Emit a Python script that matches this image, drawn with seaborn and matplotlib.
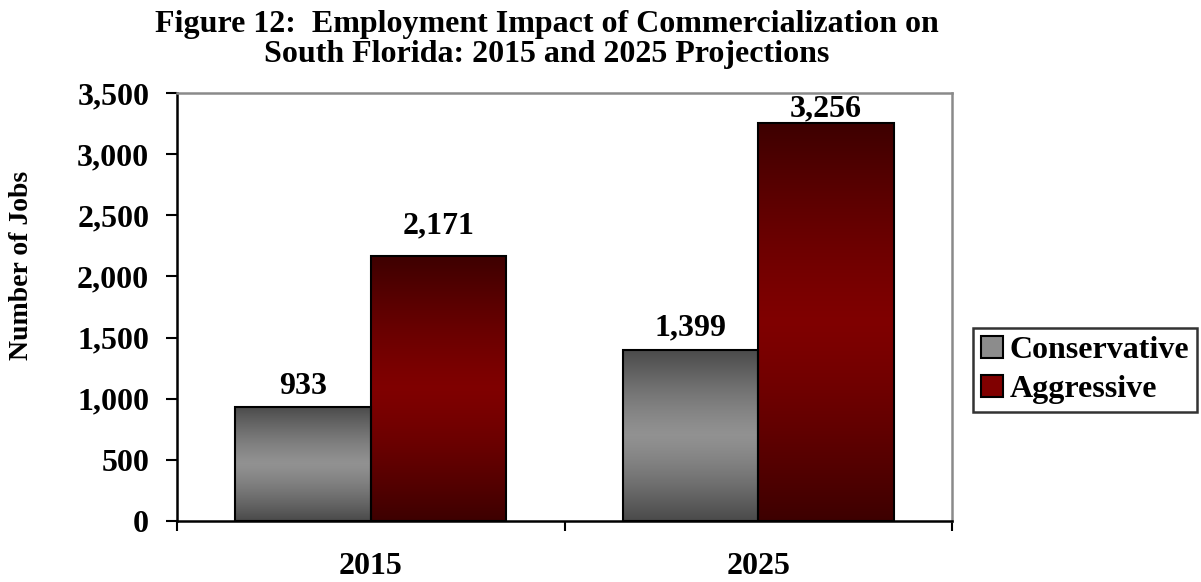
import numpy as np
import pandas as pd
import seaborn as sns
import matplotlib
matplotlib.use("Agg")
import matplotlib.pyplot as plt
from matplotlib.patches import Patch
from matplotlib.ticker import FuncFormatter, FixedLocator

# Data
years = ["2015", "2025"]
scenarios = ["Conservative", "Aggressive"]
conservative_jobs = [933, 1399]
aggressive_jobs = [2171, 3256]

df = pd.DataFrame({
    "Year": years * 2,
    "Scenario": [scenarios[0]] * 2 + [scenarios[1]] * 2,
    "Jobs": conservative_jobs + aggressive_jobs,
})

sns.set_theme(style="white")
plt.rcParams["font.family"] = ["Liberation Serif", "DejaVu Serif"]
plt.rcParams["font.weight"] = "bold"
plt.rcParams["text.color"] = "black"
plt.rcParams["axes.labelcolor"] = "black"
plt.rcParams["xtick.color"] = "black"
plt.rcParams["ytick.color"] = "black"

FS = 23
DPI = 100
fig = plt.figure(figsize=(12.01, 5.82), dpi=DPI)
ax = fig.add_axes([177 / 1201, 1 - 521 / 582, 775 / 1201, 428 / 582])

palette = {"Conservative": "#8c8c8c", "Aggressive": "#800000"}
sns.barplot(data=df, x="Year", y="Jobs", hue="Scenario", order=years,
            hue_order=scenarios, palette=palette, width=0.7, gap=0,
            edgecolor="black", linewidth=1.5, legend=False, ax=ax)

# Vertical "dark edges / bright centre" gradient for each bar
grad_ends = {"Conservative": ((0.29, 0.29, 0.29), (0.57, 0.57, 0.57)),
             "Aggressive": ((0.24, 0.0, 0.0), (0.50, 0.0, 0.0))}

bars = []
for scen, cont in zip(scenarios, ax.containers):
    for patch in cont.patches:
        bars.append((scen, patch))

t = np.linspace(0, 1, 256)
profile = np.clip(1.0 - np.abs(2 * t - 1) ** 1.3, 0, 1)
for scen, patch in bars:
    dark, light = np.array(grad_ends[scen][0]), np.array(grad_ends[scen][1])
    img = dark[None, :] + (light - dark)[None, :] * profile[:, None]
    img = img[:, None, :]
    x0, w = patch.get_x(), patch.get_width()
    y0, h = patch.get_y(), patch.get_height()
    im = ax.imshow(img, extent=[x0, x0 + w, y0, y0 + h], origin="upper",
                   aspect="auto", interpolation="bilinear", zorder=patch.get_zorder() - 0.01)
    im.set_clip_path(patch)
    patch.set_facecolor("none")

ax.set_xlim(-0.5, 1.5)
ax.set_ylim(0, 3500)

# Value labels above the bars
label_gap_px = {933: 24, 1399: 26, 2171: 33, 3256: 17}
for scen, patch in bars:
    val = int(round(patch.get_height()))
    xc = patch.get_x() + patch.get_width() / 2
    ax.annotate(f"{val:,}", xy=(xc, val), xytext=(0, label_gap_px[val] * 72 / DPI),
                textcoords="offset points", ha="center", va="center_baseline",
                fontsize=FS, fontweight="bold", color="black")

# Axes styling
ax.yaxis.set_major_locator(FixedLocator(np.arange(0, 3501, 500)))
ax.yaxis.set_major_formatter(FuncFormatter(lambda v, p: f"{int(v):,}"))
ax.tick_params(axis="y", direction="out", length=8, width=1.5, pad=12,
               labelsize=FS, colors="black", left=True)
ax.set_xticks([0, 1])
ax.set_xticklabels(years, fontsize=FS, fontweight="bold")
ax.tick_params(axis="x", which="major", length=0, pad=22)
ax.set_xticks([-0.5, 0.5, 1.5], minor=True)
ax.tick_params(axis="x", which="minor", direction="out", length=7, width=1.5,
               color="black", bottom=True)
for lab in ax.get_yticklabels():
    lab.set_fontweight("bold")

for side in ["left", "bottom"]:
    ax.spines[side].set_color("black")
    ax.spines[side].set_linewidth(1.8)
for side in ["top", "right"]:
    ax.spines[side].set_color("#8a8a8a")
    ax.spines[side].set_linewidth(1.8)
ax.set_xlabel("")
ax.set_ylabel("Number of Jobs", fontsize=20, fontweight="bold", va="center")
ax.yaxis.set_label_coords((22 - 177) / 775, (521 - 265) / 428)

# Title
fig.text(547 / 1201, 1 - 32 / 582, "Figure 12:  Employment Impact of Commercialization on",
         ha="center", va="baseline", fontsize=FS, fontweight="bold")
fig.text(547 / 1201, 1 - 62 / 582, "South Florida: 2015 and 2025 Projections",
         ha="center", va="baseline", fontsize=FS, fontweight="bold")

# Legend
handles = [Patch(facecolor="#8c8c8c", edgecolor="black", linewidth=1.5),
           Patch(facecolor="#800000", edgecolor="black", linewidth=1.5)]
leg = fig.legend(handles, scenarios, loc="center left",
                 bbox_to_anchor=(973 / 1201, 1 - 370 / 582),
                 prop={"family": "Liberation Serif", "weight": "bold", "size": FS},
                 frameon=True, fancybox=False, handlelength=0.7, handleheight=0.7,
                 handletextpad=0.2, borderpad=0.25, labelspacing=0.3, borderaxespad=0)
leg.get_frame().set_edgecolor("black")
leg.get_frame().set_linewidth(1.8)

fig.savefig("out.png", dpi=DPI)
